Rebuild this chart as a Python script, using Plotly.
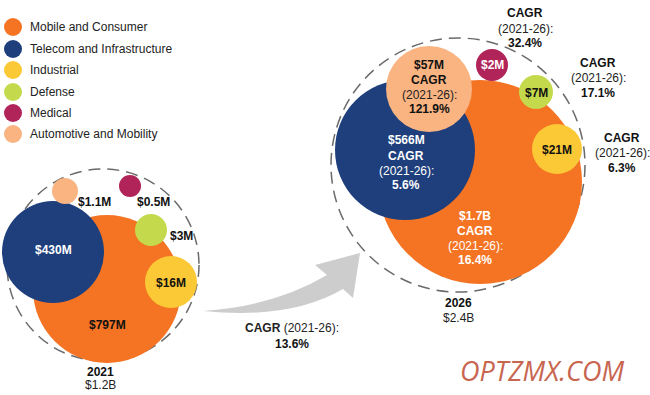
import plotly.graph_objects as go

# ---------------- data ----------------
categories = ["Mobile and Consumer", "Telecom and Infrastructure", "Industrial",
              "Defense", "Medical", "Automotive and Mobility"]
labels_2021 = ["$797M", "$430M", "$16M", "$3M", "$0.5M", "$1.1M"]
labels_2026 = ["$1.7B", "$566M", "$21M", "$7M", "$2M", "$57M"]
cagr = ["16.4%", "5.6%", "6.3%", "17.1%", "32.4%", "121.9%"]
years = ["2021", "2026"]
totals = ["$1.2B", "$2.4B"]
total_cagr = "13.6%"

# ---------------- styles / layout (positions in pixel-like coords) ----------------
colors = ["#f47424", "#1e3f7c", "#fcc936", "#c4da4c", "#b0245a", "#f9b482"]
# (cx, cy, r) for each category
pos_2021 = [(107, 289, 74), (53, 252, 51), (171, 282, 26), (151, 230, 16), (130, 186, 11), (65, 191, 13)]
pos_2026 = [(480, 182, 102), (405, 150, 70), (557, 149, 25), (536, 92, 17), (492, 65, 16), (429, 89, 43)]
dash_2021 = (103, 265, 96)
dash_2026 = (458, 165, 127)

FONT = "Arial"
shapes = []
ann = []


def circle(cx, cy, r, fill=None, line=None):
    d = dict(type="circle", xref="x", yref="y", x0=cx - r, x1=cx + r, y0=cy - r, y1=cy + r, layer="below")
    if fill:
        d["fillcolor"] = fill
        d["line"] = dict(width=0)
    if line:
        d["line"] = line
        d["fillcolor"] = "rgba(0,0,0,0)"
    shapes.append(d)


def text(x, y, s, size=12, color="#111", bold=False, xanchor="center", italic=False, fam=FONT):
    if bold:
        s = "<b>" + s + "</b>"
    if italic:
        s = "<i>" + s + "</i>"
    ann.append(dict(x=x, y=y, xref="x", yref="y", text=s, showarrow=False, xanchor=xanchor,
                    yanchor="middle", font=dict(family=fam, size=size, color=color)))


dash_line = dict(color="#6a6a6a", width=1.5, dash="12px,7px")
circle(*dash_2021, line=dash_line)
circle(*dash_2026, line=dash_line)

# bubbles
for i in range(len(categories)):
    circle(*pos_2021[i], fill=colors[i])
for i in range(len(categories)):
    circle(*pos_2026[i], fill=colors[i])

# legend
leg_y = [27, 49, 70, 92, 113, 134]
for i, c in enumerate(categories):
    circle(13, leg_y[i], 9, fill=colors[i])
    text(28, leg_y[i], c, size=12, color="#222", xanchor="left")

# arrow
shapes.append(dict(type="path", xref="x", yref="y",
                   path="M 203,311 Q 290,320 343,289 L 353,298 L 360,253 L 315,265 L 327,275 Q 275,306 203,311 Z",
                   fillcolor="#cdcdcd", line=dict(width=0), layer="below"))

# 2021 labels
text(53, 250, labels_2021[1], 12, "white", True)
text(107, 325, labels_2021[0], 12, "#111", True)
text(171, 283, labels_2021[2], 12, "#111", True)
text(181, 236, labels_2021[3], 12, "#111", True)
text(153, 202, labels_2021[4], 12, "#111", True)
text(94, 202, labels_2021[5], 12, "#111", True)
text(100, 372, years[0], 12, "#111", True)
text(100, 385, totals[0], 12, "#222")

# CAGR between
text(292, 328, "<b>CAGR</b> (2021-26):", 12, "#222")
text(292, 344, total_cagr, 12, "#111", True)

# 2026 labels
cg = "(2021-26):"
text(475, 216, labels_2026[0], 12, "white", True)
text(475, 231, "CAGR", 12, "white", True)
text(475, 246, cg, 12, "white")
text(475, 260, cagr[0], 12, "white", True)

text(406, 140, labels_2026[1], 12, "white", True)
text(406, 156, "CAGR", 12, "white", True)
text(406, 171, cg, 12, "white")
text(406, 185, cagr[1], 12, "white", True)

text(429, 65, labels_2026[5], 12, "#111", True)
text(429, 80, "CAGR", 12, "#111", True)
text(429, 95, cg, 12, "#222")
text(429, 109, cagr[5], 12, "#111", True)

text(492, 65, labels_2026[4], 12, "white", True)
text(525, 13, "CAGR", 12, "#111", True)
text(525, 29, cg, 12, "#222")
text(525, 43, cagr[4], 12, "#111", True)

text(536, 93, labels_2026[3], 12, "#111", True)
text(598, 63, "CAGR", 12, "#111", True)
text(598, 78, cg, 12, "#222")
text(598, 93, cagr[3], 12, "#111", True)

text(557, 150, labels_2026[2], 12, "#111", True)
text(622, 138, "CAGR", 12, "#111", True)
text(622, 153, cg, 12, "#222")
text(622, 168, cagr[2], 12, "#111", True)

text(458, 303, years[1], 12, "#111", True)
text(458, 318, totals[1], 12, "#222")

# watermark
text(542, 370, "OPTZMX.COM", 27, "#c8654f", italic=True, fam="Open Sans")

fig = go.Figure()
fig.add_trace(go.Scatter(x=[0, 650], y=[0, 395], mode="markers", marker=dict(opacity=0),
                         hoverinfo="skip", showlegend=False))
fig.update_layout(
    width=650, height=395, margin=dict(l=0, r=0, t=0, b=0),
    paper_bgcolor="white", plot_bgcolor="white",
    xaxis=dict(range=[0, 650], visible=False, fixedrange=True),
    yaxis=dict(range=[395, 0], visible=False, fixedrange=True),
    shapes=shapes, annotations=ann, showlegend=False,
)
fig.write_html("out.html", config={"displayModeBar": False},
               post_script="document.body.style.margin='0';document.body.style.overflow='hidden';")
